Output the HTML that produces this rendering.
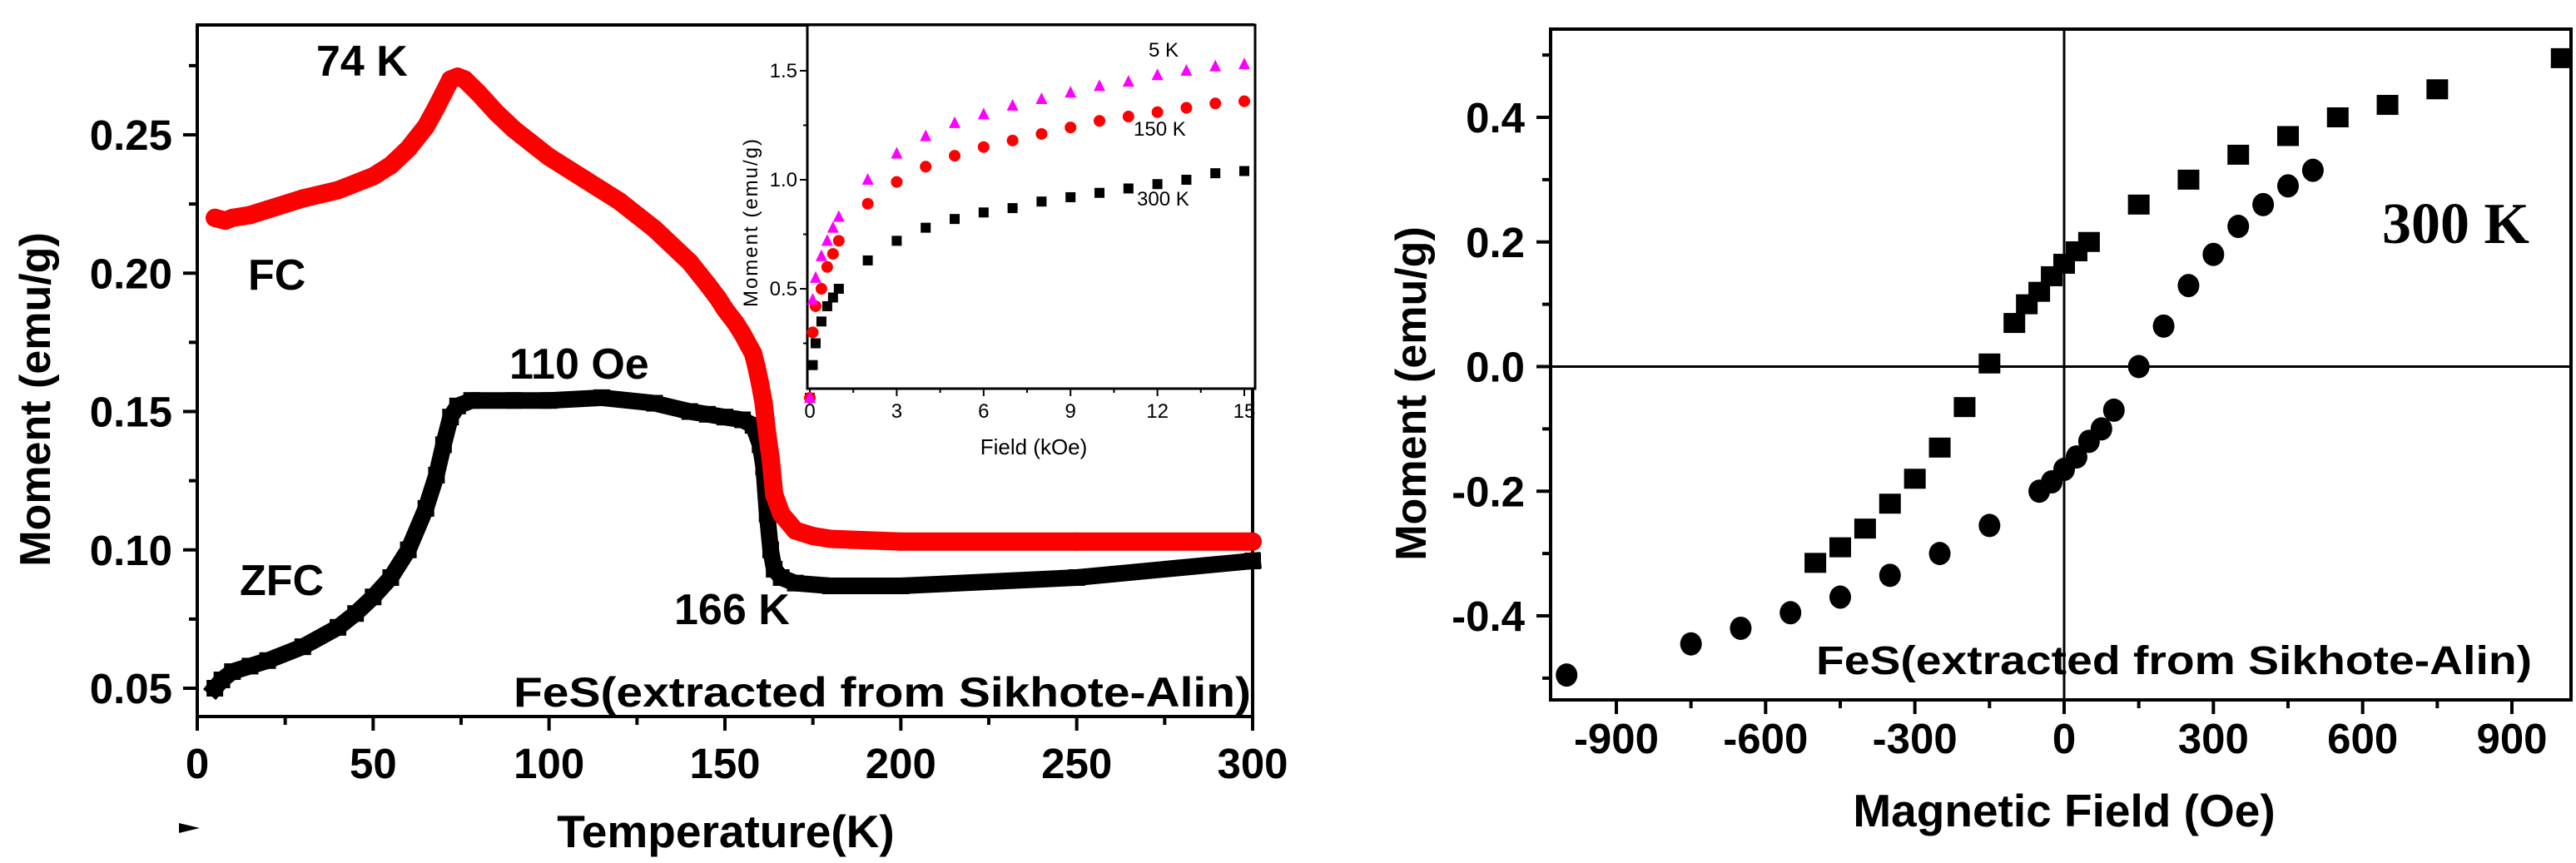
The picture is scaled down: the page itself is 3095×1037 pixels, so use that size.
<!DOCTYPE html>
<html><head><meta charset="utf-8"><style>
html,body{margin:0;padding:0;background:#fff;}
svg{display:block;}
text{font-family:"Liberation Sans",Arial,sans-serif;font-weight:bold;fill:#000;}
</style></head><body>
<svg id="fig" width="3095" height="1037" viewBox="0 0 3095 1037" xmlns="http://www.w3.org/2000/svg">
<g id="left"></g>
<g id="inset"></g>
<g id="right"></g>
</svg>
<script>
// ---- Left chart data (M vs T) ----
const fcT = [5,8,10,15,20,30,40,50,55,60,65,68,70,72,74,76,80,85,90,95,100,110,120,130,140,145,148,150,153,155,158,159,160,161,162,163,164,166,168,170,175,180,200,250,300];
const fcM = [0.220,0.219,0.220,0.221,0.223,0.227,0.230,0.235,0.239,0.245,0.253,0.260,0.265,0.270,0.271,0.270,0.265,0.258,0.252,0.247,0.242,0.234,0.226,0.216,0.204,0.196,0.191,0.187,0.182,0.178,0.171,0.166,0.160,0.153,0.142,0.133,0.120,0.113,0.110,0.107,0.105,0.104,0.103,0.103,0.103];
const zfcT = [5,7,10,15,20,30,40,45,50,55,60,65,68,70,72,74,78,90,100,115,130,140,145,150,155,158,160,161,162,163,164,166,170,180,200,250,300];
const zfcM = [0.050,0.053,0.056,0.058,0.060,0.065,0.072,0.077,0.083,0.090,0.100,0.115,0.127,0.138,0.148,0.152,0.154,0.154,0.154,0.155,0.153,0.150,0.149,0.148,0.147,0.145,0.138,0.130,0.113,0.100,0.093,0.090,0.088,0.087,0.087,0.090,0.096];
const leftXTicks = [0,50,100,150,200,250,300];
const leftYTicks = [0.05,0.10,0.15,0.20,0.25];
const leftYLabels = ["0.05","0.10","0.15","0.20","0.25"];

// ---- Inset data (M vs H) ----
const insH = [0,0.1,0.2,0.4,0.6,0.8,1,2,3,4,5,6,7,8,9,10,11,12,13,14,15];
const ins5K   = [0,0.45,0.55,0.65,0.72,0.78,0.83,1.00,1.12,1.20,1.26,1.30,1.34,1.37,1.40,1.43,1.45,1.48,1.50,1.52,1.53];
const ins150K = [0,0.30,0.42,0.50,0.60,0.66,0.72,0.89,0.99,1.06,1.11,1.15,1.18,1.21,1.24,1.27,1.29,1.31,1.33,1.35,1.36];
const ins300K = [0,0.15,0.25,0.35,0.42,0.46,0.50,0.63,0.72,0.78,0.82,0.85,0.87,0.90,0.92,0.94,0.96,0.98,1.00,1.03,1.04];
const insXTicks = [0,3,6,9,12,15];
const insYTicks = [0.5,1.0,1.5];
const insYLabels = ["0.5","1.0","1.5"];

// ---- Right chart data (hysteresis) ----
const sqH = [-500,-450,-400,-350,-300,-250,-200,-150,-100,-75,-50,-25,0,25,50,150,250,350,450,550,650,750,1000];
const sqM = [-0.315,-0.29,-0.26,-0.22,-0.18,-0.13,-0.065,0.005,0.07,0.10,0.12,0.145,0.165,0.185,0.20,0.26,0.30,0.34,0.37,0.40,0.42,0.445,0.495];
const ciH = [-1000,-750,-650,-550,-450,-350,-250,-150,-50,-25,0,25,50,75,100,150,200,250,300,350,400,450,500];
const ciM = [-0.495,-0.445,-0.42,-0.395,-0.37,-0.335,-0.30,-0.255,-0.20,-0.185,-0.165,-0.145,-0.12,-0.10,-0.07,0.0,0.065,0.13,0.18,0.225,0.26,0.29,0.315];
const rightXTicks = [-900,-600,-300,0,300,600,900];
const rightYTicks = [-0.4,-0.2,0.0,0.2,0.4];
const rightYLabels = ["-0.4","-0.2","0.0","0.2","0.4"];

const NS = "http://www.w3.org/2000/svg";
function mk(parent, tag, attrs, txt){
  const e = document.createElementNS(NS, tag);
  for (const k in attrs) e.setAttribute(k, attrs[k]);
  if (txt !== undefined) e.textContent = txt;
  parent.appendChild(e);
  return e;
}
function lin(d0,d1,r0,r1){ return v => r0 + (v-d0)/(d1-d0)*(r1-r0); }

// ===== LEFT =====
const L = document.getElementById('left');
const lx = lin(0,300,237,1505), ly = lin(0.05,0.25,827,162);
let e;
e = mk(L,'rect',{x:237,y:30,width:1268,height:831,fill:'none',stroke:'#000','stroke-width':4});
 
for (let v=0; v<=300; v+=25){
  const len = (v%50===0)?17:10;
  e = mk(L,'line',{x1:lx(v),x2:lx(v),y1:861,y2:861+len,stroke:'#000','stroke-width':4});
   
}
leftXTicks.forEach(v=>{
  e = mk(L,'text',{x:lx(v),y:935,'font-size':51,'text-anchor':'middle'},String(v));
   
});
for (let i=0;i<=9;i++){
  const v = 0.05 + i*0.025; const len = (i%2===0)?17:10;
  e = mk(L,'line',{x1:237-len,x2:237,y1:ly(v),y2:ly(v),stroke:'#000','stroke-width':4});
   
}
leftYTicks.forEach((v,i)=>{
  e = mk(L,'text',{x:207,y:ly(v)+18,'font-size':51,'text-anchor':'end'},leftYLabels[i]);
   
});
e = mk(L,'text',{x:0,y:0,'font-size':52,'text-anchor':'middle',transform:'translate(60,480) rotate(-90)'},'Moment (emu/g)');
 
e = mk(L,'text',{x:872,y:1018,'font-size':55,'text-anchor':'middle'},'Temperature(K)');
 
e = mk(L,'polygon',{points:'215,989 240,995 215,1001',fill:'#000'});
 

function polyPts(xs,ys,fx,fy){ return xs.map((x,i)=>fx(x).toFixed(1)+','+fy(ys[i]).toFixed(1)).join(' '); }
// ZFC
e = mk(L,'polyline',{points:polyPts(zfcT,zfcM,lx,ly),fill:'none',stroke:'#000','stroke-width':20,'stroke-linejoin':'miter','stroke-linecap':'square'});
 
zfcT.forEach((t,i)=>{
  e = mk(L,'rect',{x:lx(t)-10,y:ly(zfcM[i])-10,width:20,height:20,fill:'#000'});
   
});
// FC
e = mk(L,'polyline',{points:polyPts(fcT,fcM,lx,ly),fill:'none',stroke:'#ff0000','stroke-width':22,'stroke-linejoin':'round','stroke-linecap':'round'});
 
fcT.forEach((t,i)=>{
  e = mk(L,'circle',{cx:lx(t),cy:ly(fcM[i]),r:11,fill:'#ff0000'});
   
});
const lbls = [['74 K',380,91],['FC',298,348],['110 Oe',612,455],['ZFC',288,715],['166 K',810,750]];
lbls.forEach(a=>{
  e = mk(L,'text',{x:a[1],y:a[2],'font-size':52},a[0]);
   
});
e = mk(L,'text',{x:617,y:849,'font-size':50,textLength:886,lengthAdjust:'spacingAndGlyphs'},'FeS(extracted from Sikhote-Alin)');
 

// ===== INSET =====
const I = document.getElementById('inset');
const ix = lin(0,15,973,1495), iy = lin(0.5,1.5,347,85);
e = mk(I,'rect',{x:970,y:30,width:538,height:437,fill:'#fff',stroke:'#000','stroke-width':3});
 
for (let v=0; v<=15; v+=1.5){
  const len = (v%3===0)?9:5;
  e = mk(I,'line',{x1:ix(v),x2:ix(v),y1:467,y2:467+len,stroke:'#000','stroke-width':2});
   
}
insXTicks.forEach(v=>{
  e = mk(I,'text',{x:ix(v),y:502,'font-size':24,'font-weight':'normal','text-anchor':'middle',style:'font-weight:normal'},String(v));
   
});
for (let v=0.25; v<=1.6; v+=0.25){
  const len = (Math.abs((v*2)%1)<0.01)?9:5;
  e = mk(I,'line',{x1:970-len,x2:970,y1:iy(v),y2:iy(v),stroke:'#000','stroke-width':2});
   
}
insYTicks.forEach((v,i)=>{
  e = mk(I,'text',{x:958,y:iy(v)+8,'font-size':24,'text-anchor':'end',style:'font-weight:normal'},insYLabels[i]);
   
});
e = mk(I,'text',{x:0,y:0,'font-size':24,'text-anchor':'middle',style:'font-weight:normal;letter-spacing:2px',transform:'translate(910,267) rotate(-90)'},'Moment (emu/g)');
 
e = mk(I,'text',{x:1242,y:546,'font-size':26,'text-anchor':'middle',style:'font-weight:normal'},'Field (kOe)');
 
insH.forEach((h,i)=>{
  e = mk(I,'rect',{x:ix(h)-6,y:iy(ins300K[i])-6,width:12,height:12,fill:'#000'});
   
});
insH.forEach((h,i)=>{
  e = mk(I,'circle',{cx:ix(h),cy:iy(ins150K[i]),r:7,fill:'#ff0000'});
   
});
insH.forEach((h,i)=>{
  const cx=ix(h), cy=iy(ins5K[i]);
  e = mk(I,'polygon',{points:`${cx-7},${cy+6} ${cx+7},${cy+6} ${cx},${cy-8}`,fill:'#ff00ff'});
   
});
[['5 K',1380,68],['150 K',1362,163],['300 K',1366,247]].forEach(a=>{
  e = mk(I,'text',{x:a[1],y:a[2],'font-size':24,style:'font-weight:normal'},a[0]);
   
});

// ===== RIGHT =====
const R = document.getElementById('right');
const rx = lin(0,900,2480,3018), ry = lin(-0.4,0.4,740,141);
e = mk(R,'rect',{x:1863,y:35,width:1226,height:806,fill:'none',stroke:'#000','stroke-width':4});
 
e = mk(R,'line',{x1:1863,x2:3089,y1:ry(0),y2:ry(0),stroke:'#000','stroke-width':3});
 
e = mk(R,'line',{x1:rx(0),x2:rx(0),y1:35,y2:841,stroke:'#000','stroke-width':3});
 
for (let v=-1050; v<=1050; v+=150){
  const X = rx(v); if (X<1866||X>3087) continue;
  const len = (v%300===0)?17:10;
  e = mk(R,'line',{x1:X,x2:X,y1:841,y2:841+len,stroke:'#000','stroke-width':4});
   
}
rightXTicks.forEach(v=>{
  e = mk(R,'text',{x:rx(v),y:905,'font-size':51,'text-anchor':'middle'},String(v));
   
});
for (let i=-5;i<=5;i++){
  const v=i*0.1; const Y=ry(v); const len=(i%2===0)?17:10;
  e = mk(R,'line',{x1:1863-len,x2:1863,y1:Y,y2:Y,stroke:'#000','stroke-width':4});
   
}
rightYTicks.forEach((v,i)=>{
  e = mk(R,'text',{x:1832,y:ry(v)+18,'font-size':51,'text-anchor':'end'},rightYLabels[i]);
   
});
e = mk(R,'text',{x:0,y:0,'font-size':52,'text-anchor':'middle',transform:'translate(1713,473) rotate(-90)'},'Moment (emu/g)');
 
e = mk(R,'text',{x:2480,y:993,'font-size':55,'text-anchor':'middle'},'Magnetic Field (Oe)');
 
sqH.forEach((h,i)=>{
  e = mk(R,'rect',{x:rx(h)-13,y:ry(sqM[i])-12,width:26,height:24,fill:'#000'});
   
});
ciH.forEach((h,i)=>{
  e = mk(R,'ellipse',{cx:rx(h),cy:ry(ciM[i]),rx:13,ry:14,fill:'#000'});
   
});
e = mk(R,'text',{x:2862,y:292,'font-size':70,style:'font-family:"Liberation Serif",serif;font-weight:bold'},'300 K');
 
e = mk(R,'text',{x:2182,y:810,'font-size':48,textLength:860,lengthAdjust:'spacingAndGlyphs'},'FeS(extracted from Sikhote-Alin)');
 
</script>
</body></html>
